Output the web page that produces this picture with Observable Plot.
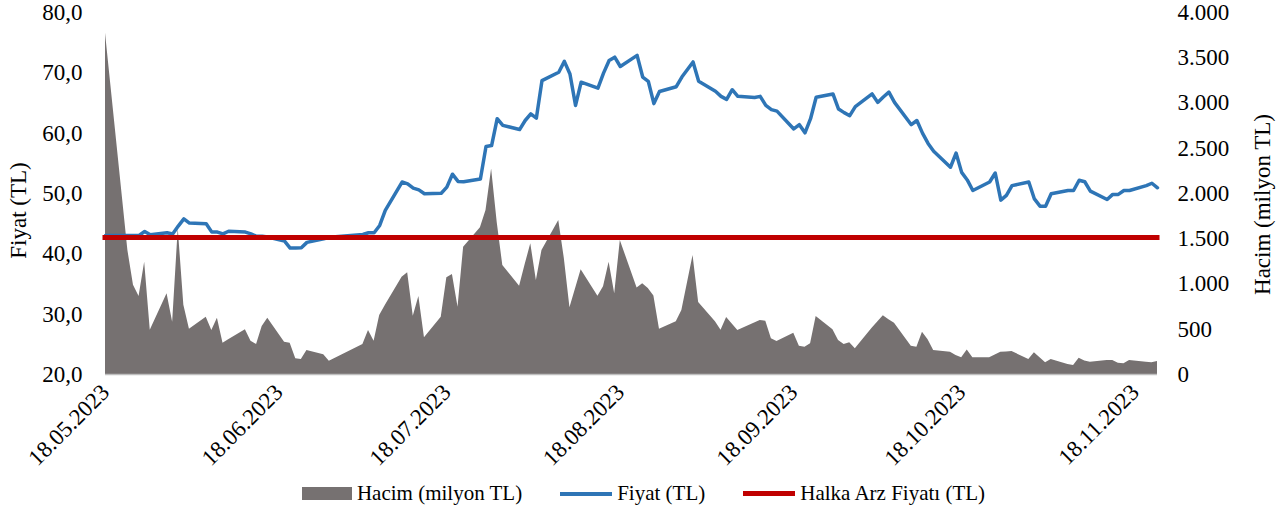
<!DOCTYPE html>
<html>
<head>
<meta charset="utf-8">
<script src="https://cdn.jsdelivr.net/npm/d3@7"></script>
<script src="https://cdn.jsdelivr.net/npm/@observablehq/plot@0.6"></script>
<style>
  html, body { margin: 0; padding: 0; background: #fff; }
  body { width: 1287px; height: 512px; overflow: hidden; font-family: "Liberation Serif", "Times New Roman", serif; }
  #legend { display: flex; justify-content: center; align-items: center; height: 37px; font-size: 21px; color: #000; }
  #legend .sw { display: inline-block; width: 50px; }
  #legend .txt { margin-left: 5px; }
  #legend .gap { margin-left: 38px; }
</style>
</head>
<body>
<div id="chart"></div>
<div id="legend">
  <span class="sw" style="height:13px;background:#767171"></span><span class="txt">Hacim (milyon TL)</span>
  <span class="sw gap" style="height:4px;background:#2E75B6;width:52px"></span><span class="txt">Fiyat (TL)</span>
  <span class="sw gap" style="height:5px;background:#C00000;width:52px"></span><span class="txt">Halka Arz Fiyatı (TL)</span>
</div>
<script>
// ---- Data ----
const priceDates = [
  "2023-05-18","2023-05-24","2023-05-25","2023-05-26","2023-05-29","2023-05-30","2023-05-31",
  "2023-06-01","2023-06-02","2023-06-05","2023-06-06","2023-06-07","2023-06-08","2023-06-09",
  "2023-06-12","2023-06-13","2023-06-14","2023-06-15","2023-06-16","2023-06-19","2023-06-20",
  "2023-06-21","2023-06-22","2023-06-23","2023-06-26","2023-06-27","2023-07-03","2023-07-04",
  "2023-07-05","2023-07-06","2023-07-07","2023-07-10","2023-07-11","2023-07-12","2023-07-13",
  "2023-07-14","2023-07-17","2023-07-18","2023-07-19","2023-07-20","2023-07-21","2023-07-24",
  "2023-07-25","2023-07-26","2023-07-27","2023-07-28","2023-07-31","2023-08-01","2023-08-02",
  "2023-08-03","2023-08-04","2023-08-07","2023-08-08","2023-08-09","2023-08-10","2023-08-11",
  "2023-08-14","2023-08-15","2023-08-16","2023-08-17","2023-08-18","2023-08-21","2023-08-22",
  "2023-08-23","2023-08-24","2023-08-25","2023-08-28","2023-08-29","2023-08-31","2023-09-01",
  "2023-09-04","2023-09-05","2023-09-06","2023-09-07","2023-09-08","2023-09-11","2023-09-12",
  "2023-09-13","2023-09-14","2023-09-15","2023-09-18","2023-09-19","2023-09-20","2023-09-21",
  "2023-09-22","2023-09-25","2023-09-26","2023-09-27","2023-09-28","2023-09-29","2023-10-02",
  "2023-10-03","2023-10-04","2023-10-05","2023-10-06","2023-10-09","2023-10-10","2023-10-11",
  "2023-10-12","2023-10-13","2023-10-16","2023-10-17","2023-10-18","2023-10-19","2023-10-20",
  "2023-10-23","2023-10-24","2023-10-25","2023-10-26","2023-10-27","2023-10-30","2023-10-31",
  "2023-11-01","2023-11-02","2023-11-03","2023-11-06","2023-11-07","2023-11-08","2023-11-09",
  "2023-11-10","2023-11-13","2023-11-14","2023-11-15","2023-11-16","2023-11-17","2023-11-20",
  "2023-11-21","2023-11-22"
];
const prices = [
  43.05,43.05,43.7,43.15,43.5,43.3,44.6,
  45.8,45.1,45.0,43.6,43.6,43.3,43.75,
  43.6,43.3,42.9,42.9,42.8,42.1,40.95,
  40.95,41.0,41.9,42.5,42.75,43.2,43.5,
  43.5,44.7,47.2,51.9,51.6,50.9,50.6,
  49.95,50.05,51.05,53.2,52.0,51.95,52.4,
  57.8,57.95,62.4,61.3,60.6,62.1,63.2,
  62.5,68.7,70.1,71.9,69.8,64.6,68.45,
  67.45,69.95,72.05,72.6,71.05,72.9,69.3,
  68.6,64.9,66.9,67.7,69.3,71.8,68.6,
  66.95,66.1,65.6,67.2,66.1,65.9,66.1,
  64.6,63.9,63.65,60.7,61.4,60.05,62.4,
  65.95,66.5,64.0,63.4,62.9,64.4,66.5,
  65.1,66.0,66.8,65.1,61.4,62.1,60.0,
  58.3,57.0,54.35,56.7,53.5,52.25,50.5,
  51.9,53.4,48.9,49.7,51.3,51.9,49.1,
  47.9,47.9,49.95,50.5,50.5,52.2,51.95,
  50.4,49.0,49.85,49.85,50.5,50.5,51.3,
  51.7,50.95
];

const volumeDates = [
  "2023-05-18","2023-05-22","2023-05-23","2023-05-24","2023-05-25","2023-05-26","2023-05-29",
  "2023-05-30","2023-05-31","2023-06-01","2023-06-02","2023-06-05","2023-06-06","2023-06-07",
  "2023-06-08","2023-06-09","2023-06-12","2023-06-13","2023-06-14","2023-06-15","2023-06-16",
  "2023-06-19","2023-06-20","2023-06-21","2023-06-22","2023-06-23","2023-06-26","2023-06-27",
  "2023-07-03","2023-07-04","2023-07-05","2023-07-06","2023-07-07","2023-07-10","2023-07-11",
  "2023-07-12","2023-07-13","2023-07-14","2023-07-17","2023-07-18","2023-07-19","2023-07-20",
  "2023-07-21","2023-07-24","2023-07-25","2023-07-26","2023-07-27","2023-07-28","2023-07-31",
  "2023-08-01","2023-08-02","2023-08-03","2023-08-04","2023-08-07","2023-08-08","2023-08-09",
  "2023-08-10","2023-08-11","2023-08-14","2023-08-15","2023-08-16","2023-08-17","2023-08-18",
  "2023-08-21","2023-08-22","2023-08-23","2023-08-24","2023-08-25","2023-08-28","2023-08-29",
  "2023-08-31","2023-09-01","2023-09-04","2023-09-05","2023-09-06","2023-09-07","2023-09-08",
  "2023-09-11","2023-09-12","2023-09-13","2023-09-14","2023-09-15","2023-09-18","2023-09-19",
  "2023-09-20","2023-09-21","2023-09-22","2023-09-25","2023-09-26","2023-09-27","2023-09-28",
  "2023-09-29","2023-10-02","2023-10-03","2023-10-04","2023-10-05","2023-10-06","2023-10-09",
  "2023-10-10","2023-10-11","2023-10-12","2023-10-13","2023-10-16","2023-10-17","2023-10-18",
  "2023-10-19","2023-10-20","2023-10-23","2023-10-24","2023-10-25","2023-10-26","2023-10-27",
  "2023-10-30","2023-10-31","2023-11-01","2023-11-02","2023-11-03","2023-11-06","2023-11-07",
  "2023-11-08","2023-11-09","2023-11-10","2023-11-13","2023-11-14","2023-11-15","2023-11-16",
  "2023-11-17","2023-11-20","2023-11-21","2023-11-22"
];
const volumes = [
  3770,1370,985,862,1241,490,892,
  578,1610,765,500,633,486,622,
  346,385,494,368,331,530,622,
  357,346,174,166,265,218,147,
  331,486,368,652,762,1075,1124,
  644,862,405,633,1068,1105,744,
  1407,1621,1812,2270,1680,1204,976,
  1215,1444,1039,1370,1702,1280,737,
  947,1157,865,970,1241,892,1481,
  955,1002,950,868,500,582,707,
  1315,795,582,490,630,558,486,
  569,597,589,394,365,456,313,
  302,339,641,494,376,331,350,
  284,512,580,650,605,565,313,
  302,467,383,265,246,210,185,
  270,184,184,215,246,250,254,
  166,240,185,129,166,110,99,
  180,150,136,155,155,125,118,
  155,135,129,144
];

const ipoPrice = 42.7;
const xTickDates = ["2023-05-18","2023-06-18","2023-07-18","2023-08-18","2023-09-18","2023-10-18","2023-11-18"];
const leftTicks = [20, 30, 40, 50, 60, 70, 80];
const rightTicks = [0, 500, 1000, 1500, 2000, 2500, 3000, 3500, 4000];

// ---- Build ----
const parse = s => new Date(s + "T00:00:00Z");
const priceData = priceDates.map((d, i) => ({date: parse(d), price: prices[i]}));
const volData = volumeDates.map((d, i) => ({date: parse(d), volume: volumes[i]}));
const startDate = parse(priceDates[0]);
const endDate = parse(priceDates[priceDates.length - 1]);

// secondary axis: volume 0..4000 mapped onto price 20..80
const volToY = v => 20 + v * 60 / 4000;
const yToVol = y => Math.round((y - 20) * 4000 / 60);

const trLocale = d3.formatLocale({decimal: ",", thousands: ".", grouping: [3], currency: ["", ""]});
const fmtLeft = trLocale.format(".1f");
const fmtRight = trLocale.format(",d");

const chart = Plot.plot({
  width: 1287,
  height: 475,
  marginTop: 12,
  marginBottom: 101,
  marginLeft: 105,
  marginRight: 130,
  style: {fontFamily: "'Liberation Serif', 'Times New Roman', serif", fontSize: "23px", color: "#000", background: "#fff"},
  x: {type: "utc", domain: [startDate, endDate]},
  y: {domain: [20, 80]},
  marks: [
    Plot.areaY(volData, {x: "date", y1: 20, y2: d => volToY(d.volume), fill: "#767171", curve: "linear"}),
    Plot.ruleY([20], {stroke: "#bfbfbf", strokeWidth: 1.5}),
    Plot.lineY(priceData, {x: "date", y: "price", stroke: "#2E75B6", strokeWidth: 3.5, curve: "linear", strokeLinejoin: "round"}),
    Plot.ruleY([ipoPrice], {x1: () => startDate, x2: () => endDate, stroke: "#C00000", strokeWidth: 5, strokeLinecap: "square"}),
    Plot.axisY(leftTicks, {anchor: "left", tickSize: 0, tickPadding: 23, tickFormat: d => fmtLeft(d), label: null, fontSize: 23}),
    Plot.axisY(rightTicks.map(volToY), {anchor: "right", tickSize: 0, tickPadding: 20, tickFormat: y => fmtRight(yToVol(y)), label: null, fontSize: 23}),
    Plot.axisX(xTickDates.map(parse), {anchor: "bottom", tickSize: 0, tickPadding: 14, tickRotate: -45, tickFormat: d3.utcFormat("%d.%m.%Y"), label: null, fontSize: 23}),
    Plot.text(["Fiyat (TL)"], {frameAnchor: "left", dx: -87, dy: 17, rotate: -90, textAnchor: "middle", lineAnchor: "middle", fontSize: 23, fill: "#000"}),
    Plot.text(["Hacim (milyon TL)"], {frameAnchor: "right", dx: 105, dy: 11, rotate: -90, textAnchor: "middle", lineAnchor: "middle", fontSize: 23, fill: "#000"})
  ]
});
document.getElementById("chart").appendChild(chart);
</script>
</body>
</html>
